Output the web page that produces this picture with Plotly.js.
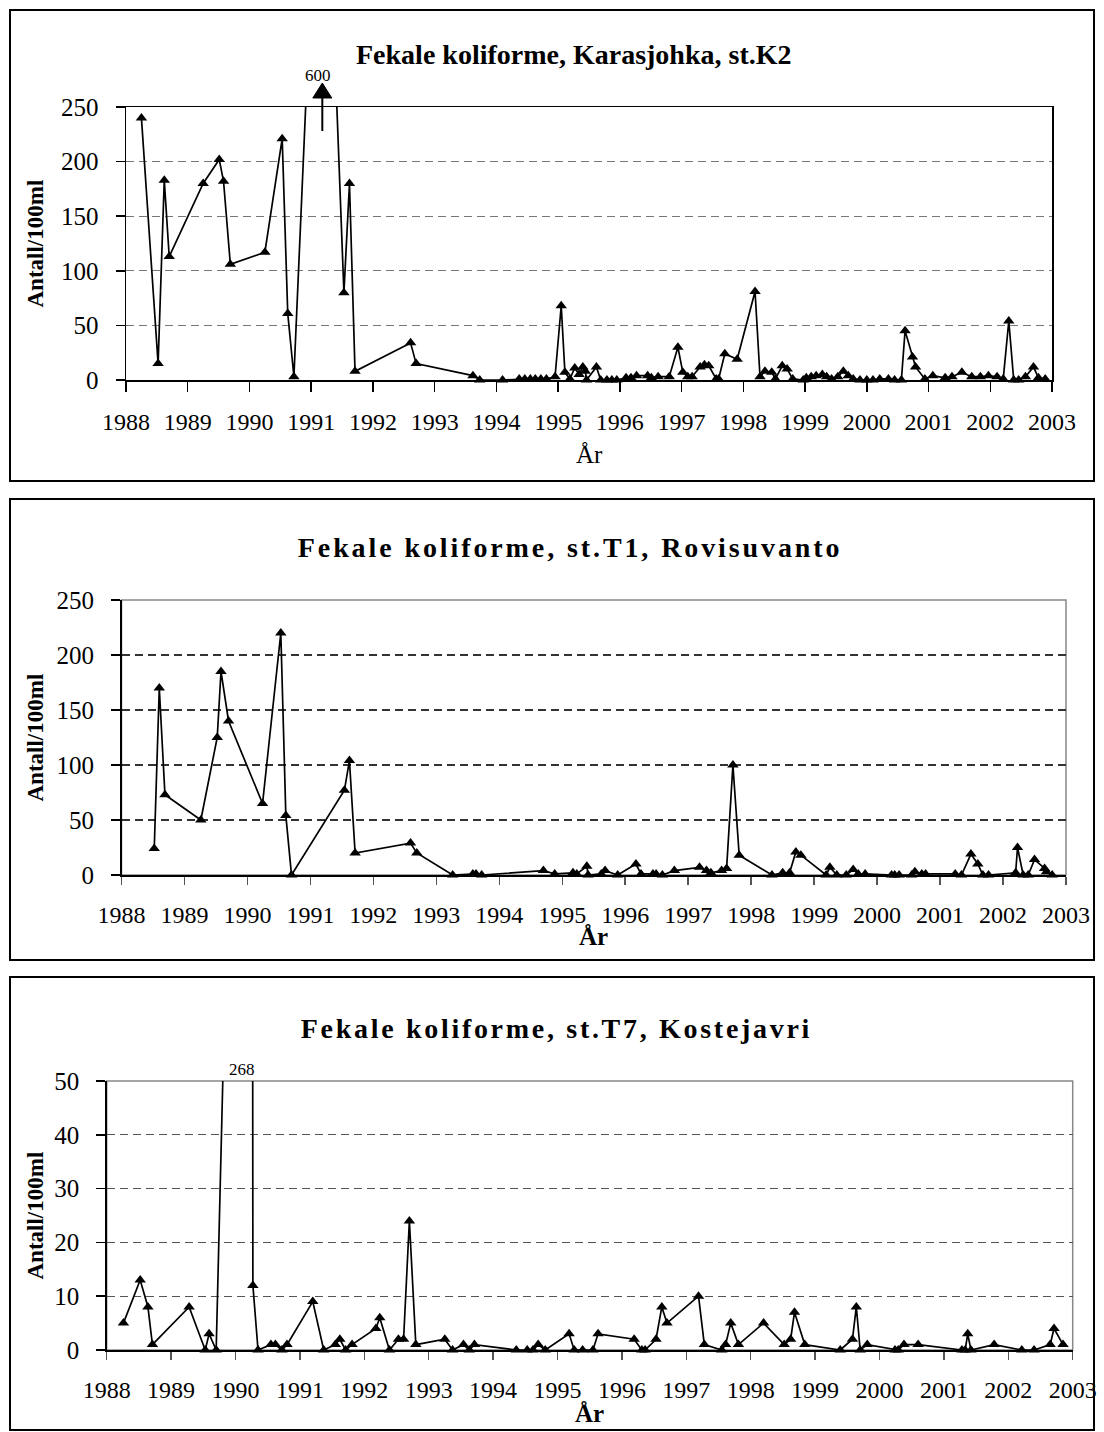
<!DOCTYPE html>
<html><head><meta charset="utf-8">
<script src="https://cdn.plot.ly/plotly-3.0.1.min.js"></script>
<style>
html,body{margin:0;padding:0;background:#fff}#chart{width:1104px;height:1432px}
.annotation[data-index="1"] .annotation-text{letter-spacing:2.9px}
.annotation[data-index="2"] .annotation-text{letter-spacing:2.7px}
</style>
</head><body><div id="chart"></div>
<script>
// ---------- data ----------
const k2Years = [1988.25,1988.52,1988.62,1988.70,1989.25,1989.51,1989.58,1989.69,1990.25,1990.53,1990.62,1990.72,1991.18,1991.53,1991.62,1991.71,1992.61,1992.70,1993.62,1993.73,1994.10,1994.37,1994.46,1994.55,1994.63,1994.72,1994.81,1994.95,1995.05,1995.11,1995.19,1995.27,1995.34,1995.40,1995.44,1995.46,1995.62,1995.69,1995.79,1995.87,1995.95,1996.10,1996.18,1996.27,1996.45,1996.51,1996.62,1996.80,1996.94,1997.02,1997.10,1997.17,1997.30,1997.37,1997.44,1997.56,1997.60,1997.70,1997.90,1998.19,1998.27,1998.35,1998.46,1998.52,1998.63,1998.71,1998.80,1998.97,1999.02,1999.10,1999.18,1999.28,1999.35,1999.43,1999.53,1999.62,1999.70,1999.78,1999.89,2000.00,2000.10,2000.21,2000.35,2000.45,2000.56,2000.62,2000.74,2000.79,2000.94,2001.07,2001.27,2001.38,2001.54,2001.70,2001.84,2001.97,2002.11,2002.21,2002.30,2002.38,2002.46,2002.57,2002.70,2002.78,2002.89];
const k2Values = [240,15,183,113,180,202,182,106,117,221,61,3,600,80,180,8,34,15,4,0,0,1,1,1,1,1,1,3,68,7,1,11,5,12,8,0,12,0,0,0,0,2,2,4,4,2,3,3,30,7,3,3,12,14,13,1,1,24,19,81,3,8,7,1,13,10,1,0,2,3,4,5,3,1,3,8,4,1,0,0,0,1,1,0,0,45,21,12,1,4,2,3,7,3,3,4,3,1,54,0,0,3,12,2,1];

const t1Years = [1988.52,1988.60,1988.69,1989.26,1989.52,1989.58,1989.70,1990.24,1990.53,1990.61,1990.70,1991.54,1991.62,1991.71,1992.59,1992.69,1993.26,1993.58,1993.63,1993.72,1994.70,1994.88,1995.17,1995.23,1995.39,1995.41,1995.62,1995.68,1995.88,1996.17,1996.25,1996.44,1996.49,1996.59,1996.78,1997.18,1997.29,1997.36,1997.53,1997.61,1997.71,1997.81,1998.33,1998.50,1998.61,1998.71,1998.79,1999.19,1999.25,1999.36,1999.51,1999.62,1999.70,1999.81,2000.23,2000.28,2000.35,2000.55,2000.60,2000.71,2000.77,2001.24,2001.34,2001.49,2001.60,2001.68,2001.77,2002.20,2002.23,2002.32,2002.40,2002.50,2002.66,2002.69,2002.78];
const t1Values = [24,170,73,50,125,185,140,65,220,54,0,77,104,20,29,20,0,1,1,0,4,1,2,1,8,0,1,4,0,10,1,1,1,0,4,7,4,2,4,6,100,18,0,2,2,21,18,0,7,0,0,5,1,1,0,0,0,0,3,1,1,1,0,19,10,0,0,2,25,0,0,14,6,3,0];

const t7Years = [1988.26,1988.52,1988.64,1988.71,1989.28,1989.53,1989.59,1989.70,1990.25,1990.27,1990.35,1990.55,1990.62,1990.72,1990.80,1991.20,1991.37,1991.55,1991.62,1991.71,1991.81,1992.18,1992.24,1992.39,1992.53,1992.61,1992.70,1992.80,1993.25,1993.37,1993.54,1993.63,1993.71,1994.36,1994.53,1994.62,1994.70,1994.81,1995.18,1995.26,1995.39,1995.55,1995.63,1996.19,1996.31,1996.36,1996.53,1996.62,1996.70,1997.19,1997.28,1997.55,1997.61,1997.69,1997.81,1998.20,1998.52,1998.62,1998.68,1998.84,1999.39,1999.58,1999.64,1999.70,1999.81,2000.24,2000.29,2000.38,2000.60,2001.28,2001.33,2001.37,2001.42,2001.78,2002.21,2002.40,2002.65,2002.71,2002.85];
const t7Values = [5,13,8,1,8,0,3,0,268,12,0,1,1,0,1,9,0,1,2,0,1,4,6,0,2,2,24,1,2,0,1,0,1,0,0,0,1,0,3,0,0,0,3,2,0,0,2,8,5,10,1,0,1,5,1,5,1,2,7,1,0,2,8,0,1,0,0,1,1,0,0,3,0,1,0,0,1,4,1];

const panelTitles = ['Fekale koliforme, Karasjohka, st.K2', 'Fekale koliforme, st.T1, Rovisuvanto', 'Fekale koliforme, st.T7, Kostejavri'];
const yTitle = 'Antall/100ml';
const xTitle = 'År';
const yearRange = [1988, 2003];
const yMaxes = [250, 250, 50];
const yStep = [50, 50, 10];

// ---------- layout geometry (pixels) ----------
const W = 1104, H = 1432;
const px = v => v / W, py = v => 1 - v / H;
const FONT = 'Liberation Serif, Times New Roman, serif';

const panels = [
  {box:[10,10,1094,481], plot:[126,107,1052,380], titleY:54, titleX:574, titleSize:28, xtY:455, xtBold:false, frame:'#000', grid:'#777', tick:'#000', tickUp:8, tickDown:10},
  {box:[10,499,1094,960], plot:[121.5,600,1066,875], titleY:547, titleX:570, titleSize:28, xtY:936, xtBold:true, frame:'#888', grid:'#333', tick:'#555', tickUp:8, tickDown:8},
  {box:[10,977,1094,1430], plot:[106.7,1081,1072.7,1350], titleY:1028, titleX:556, titleSize:28, xtY:1413, xtBold:true, frame:'#888', grid:'#555', tick:'#555', tickUp:10, tickDown:8}
];
const years = [k2Years, t1Years, t7Years];
const values = [k2Values, t1Values, t7Values];

const traces = [];
const layout = {
  width: W, height: H, margin: {l:0, r:0, t:0, b:0},
  paper_bgcolor: '#fff', plot_bgcolor: 'rgba(0,0,0,0)',
  showlegend: false, font: {family: FONT, color: '#000', size: 24},
  shapes: [], annotations: []
};

// titles first (annotation indices 0..2)
panels.forEach((p, i) => {
  layout.annotations.push({xref: 'paper', yref: 'paper', x: px(p.titleX), y: py(p.titleY), xanchor: 'center', yanchor: 'middle',
    text: panelTitles[i], showarrow: false, font: {family: FONT, size: p.titleSize, weight: 'bold'}});
});

panels.forEach((p, i) => {
  const n = i + 1;
  const xa = n === 1 ? 'x' : 'x' + n, ya = n === 1 ? 'y' : 'y' + n;
  const xKey = n === 1 ? 'xaxis' : 'xaxis' + n, yKey = n === 1 ? 'yaxis' : 'yaxis' + n;
  const [l, t, r, b] = p.plot;
  layout[xKey] = {
    domain: [px(l), px(r)], anchor: ya, range: yearRange, tickmode: 'linear', tick0: 1988, dtick: 1,
    ticks: 'outside', ticklen: p.tickDown, tickwidth: 1.5, tickcolor: p.tick, tickformat: 'd',
    showline: true, linecolor: '#000', linewidth: 1.5, mirror: n === 1,
    showgrid: false, zeroline: false, tickfont: {size: 24, family: FONT}, ticklabelstandoff: 10
  };
  layout['xaxis' + (n + 3)] = {
    overlaying: xa, anchor: ya, range: yearRange, tickmode: 'linear', tick0: 1988, dtick: 1,
    ticks: 'inside', ticklen: p.tickUp, tickwidth: 1.5, tickcolor: p.tick, showticklabels: false,
    showgrid: false, zeroline: false, showline: false
  };
  layout[yKey] = {
    domain: [py(b), py(t)], anchor: xa, range: [0, yMaxes[i]], tickmode: 'linear', tick0: 0, dtick: yStep[i],
    ticks: 'outside', ticklen: 9, tickwidth: 1.5, tickcolor: '#000',
    showline: true, linecolor: '#000', linewidth: 1.5, mirror: n === 1,
    showgrid: true, gridcolor: p.grid, gridwidth: 1.2, griddash: '8px,5px', zeroline: false,
    tickfont: {size: 25, family: FONT}, ticklabelstandoff: 12
  };
  traces.push({
    x: years[i], y: values[i], xaxis: xa, yaxis: ya, type: 'scatter', mode: 'lines',
    line: {color: '#000', width: 1.7}, cliponaxis: true, hoverinfo: 'skip'
  });
  traces.push({
    x: years[i], y: values[i], xaxis: xa, yaxis: ya, type: 'scatter', mode: 'markers',
    marker: {symbol: 'triangle-up', size: 10, color: '#000',
             opacity: values[i].map(v => v > yMaxes[i] ? 0 : 1)},
    cliponaxis: false, hoverinfo: 'skip'
  });
  // outer panel border
  layout.shapes.push({type: 'rect', xref: 'paper', yref: 'paper', x0: px(p.box[0]), x1: px(p.box[2]),
    y0: py(p.box[3]), y1: py(p.box[1]), line: {color: '#000', width: 2}, layer: 'below'});
  // plot frame (grey for the lower panels)
  if (n > 1) {
    layout.shapes.push({type: 'rect', xref: 'paper', yref: 'paper', x0: px(l), x1: px(r),
      y0: py(b), y1: py(t), line: {color: p.frame, width: 1.5}, layer: 'below'});
  }
  layout.annotations.push({xref: 'paper', yref: 'paper', x: px(35), y: py((t + b) / 2), xanchor: 'center', yanchor: 'middle',
    text: yTitle, textangle: -90, showarrow: false, font: {family: FONT, size: 23, weight: 'bold'}});
  layout.annotations.push({xref: 'paper', yref: 'paper', x: px((l + r) / 2), y: py(p.xtY), xanchor: 'center', yanchor: 'middle',
    text: xTitle, showarrow: false, font: {family: FONT, size: 25, weight: p.xtBold ? 'bold' : 'normal'}});

  // off-scale values: label + (panel 1) arrow
  values[i].forEach((v, k) => {
    if (v <= yMaxes[i]) return;
    const xv = years[i][k];
    const xPaper = px(l) + (xv - yearRange[0]) / (yearRange[1] - yearRange[0]) * (px(r) - px(l));
    if (n === 1) {
      layout.annotations.push({xref: 'x', yref: 'paper', x: xv, y: py(t - 32), xanchor: 'center', yanchor: 'middle', xshift: -4,
        text: String(v), showarrow: false, font: {family: FONT, size: 17}});
      layout.shapes.push({type: 'path', xref: 'paper', yref: 'paper', xsizemode: 'pixel', ysizemode: 'pixel',
        xanchor: xPaper, yanchor: py(t), path: 'M -9.5 9 L 9.5 9 L 0 24 Z', fillcolor: '#000', line: {color: '#000', width: 1}});
      layout.shapes.push({type: 'path', xref: 'paper', yref: 'paper', xsizemode: 'pixel', ysizemode: 'pixel',
        xanchor: xPaper, yanchor: py(t), path: 'M 0 -24 L 0 10', line: {color: '#000', width: 2}});
    } else {
      layout.annotations.push({xref: 'x' + n, yref: 'paper', x: xv, y: py(t - 12), xanchor: 'center', yanchor: 'middle', xshift: -10,
        text: String(v), showarrow: false, font: {family: FONT, size: 17}});
    }
  });
});

Plotly.newPlot('chart', traces, layout, {staticPlot: true, displayModeBar: false});
</script>
</body></html>
